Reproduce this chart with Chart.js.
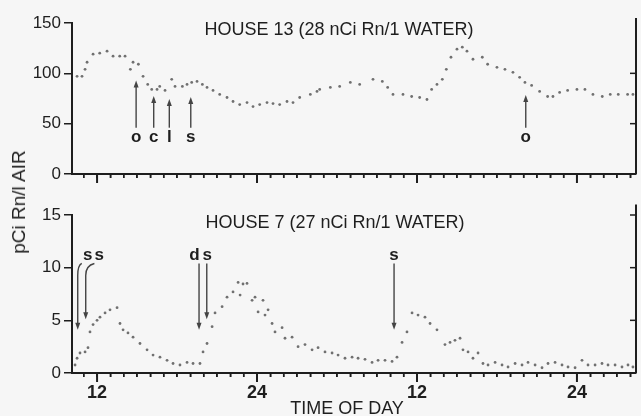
<!DOCTYPE html>
<html>
<head>
<meta charset="utf-8">
<script src="https://cdn.jsdelivr.net/npm/chart.js@4.4.1/dist/chart.umd.min.js"></script>
<style>
  body { margin: 0; background: #f6f6f6; width: 641px; height: 416px; overflow: hidden; position: relative; font-family: "Liberation Sans", Arial, sans-serif; }
  .box { position: absolute; left: 0; width: 641px; }
  #ytitle { position: absolute; left: 19px; top: 202px; transform: translate(-50%, -50%) rotate(-90deg); font-size: 19px; color: #222; white-space: nowrap; }
</style>
</head>
<body>
<div class="box" style="top:0;height:200px"><canvas id="topChart" width="641" height="200"></canvas></div>
<div class="box" style="top:200px;height:216px"><canvas id="bottomChart" width="641" height="216"></canvas></div>
<div id="ytitle">pCi Rn/l AIR</div>
<script>
// Horas (eje X continuo, dos días) y valores
const house13Hours = [10.5, 10.87, 11.1, 11.25, 11.7, 12.2, 12.75, 13.2, 13.7, 14.1, 14.5, 14.7, 15.1, 15.45, 15.8, 16.1, 16.5, 16.7, 17.1, 17.6,
  17.85, 18.4, 18.75, 19.1, 19.5, 19.9, 20.25, 20.7, 21.2, 21.75, 22.2, 22.7, 23.25, 23.7, 24.2, 24.75, 25.2, 25.7, 26.25, 26.7,
  27.2, 28.0, 28.5, 28.7, 29.5, 30.2, 31.0, 31.7, 32.7, 33.4, 33.8, 34.2, 34.95, 35.6, 36.2, 36.75, 37.1, 37.5, 37.9, 38.2,
  38.55, 39.0, 39.4, 39.75, 40.2, 40.9, 41.3, 42.0, 42.6, 43.2, 43.7, 44.1, 44.6, 45.2, 45.8, 46.2, 46.7, 47.3, 48.0, 48.6,
  49.2, 49.9, 50.5, 51.1, 51.8, 52.2];
const house13Values = [97, 97, 104, 111, 119, 120, 122, 117, 117, 117, 104, 111, 109, 97, 89, 84, 84, 87, 83, 94,
  87, 87, 89, 91, 92, 89, 86, 83, 79, 76, 72, 69, 71, 67, 69, 71, 70, 69, 72, 71,
  76, 79, 82, 84, 86, 87, 91, 89, 94, 92, 86, 79, 79, 77, 76, 74, 84, 89, 94, 104,
  116, 124, 126, 122, 114, 116, 109, 106, 104, 101, 96, 91, 88, 82, 77, 77, 81, 83, 84, 84,
  79, 77, 79, 79, 79, 79];

const house7Hours = [10.35, 10.5, 10.72, 11.1, 11.32, 11.47, 11.7, 12.0, 12.22, 12.6, 12.97, 13.5, 13.72, 13.95, 14.32, 14.7, 15.22, 15.75, 16.2, 16.72,
  17.25, 17.7, 18.22, 18.75, 19.2, 19.72, 19.95, 20.25, 20.63, 20.85, 21.38, 21.75, 22.2, 22.58, 22.73, 22.95, 23.25, 23.63, 23.85, 24.08,
  24.45, 24.6, 24.83, 25.13, 25.35, 25.88, 26.1, 26.63, 27.08, 27.6, 28.13, 28.58, 29.1, 29.63, 30.08, 30.6, 31.13, 31.58, 32.1, 32.63,
  33.08, 33.6, 34.13, 34.5, 34.88, 35.25, 35.63, 36.08, 36.6, 36.98, 37.5, 38.1, 38.48, 38.85, 39.23, 39.45, 39.83, 40.2, 40.58, 40.95,
  41.33, 41.86, 42.38, 42.83, 43.36, 43.88, 44.33, 44.86, 45.38, 45.83, 46.36, 46.88, 47.33, 47.86, 48.38, 48.83, 49.36, 49.88, 50.33, 50.86,
  51.38, 51.83, 52.2];
const house7Values = [0.76, 1.4, 1.9, 2.0, 2.4, 3.9, 4.6, 5.0, 5.3, 5.7, 6.0, 6.2, 4.7, 4.1, 3.8, 3.4, 2.8, 2.2, 1.7, 1.5,
  1.2, 0.9, 0.76, 1.0, 0.9, 0.9, 2.0, 2.8, 4.4, 5.7, 6.3, 7.2, 7.7, 8.6, 7.4, 8.45, 8.5, 6.9, 7.2, 5.8,
  6.9, 5.5, 6.0, 4.7, 3.9, 4.3, 3.3, 3.4, 2.5, 2.7, 2.2, 2.4, 2.0, 1.9, 1.7, 1.4, 1.5, 1.4, 1.3, 1.0,
  1.2, 1.2, 1.1, 1.5, 2.9, 3.9, 5.7, 5.5, 5.3, 4.7, 4.1, 2.7, 2.9, 3.1, 3.3, 2.2, 2.0, 1.4, 1.9, 0.9,
  0.76, 1.0, 0.76, 0.57, 0.9, 0.76, 1.0, 0.76, 0.5, 0.9, 1.0, 0.76, 0.57, 0.5, 1.2, 0.76, 0.76, 0.9, 0.76, 0.76,
  0.57, 0.76, 0.57];

// Marcas del eje X: cada hora; etiquetas solo a las 12 y 24
const tickHours = [11, 12, 13, 14, 15, 16, 17, 18, 19, 20, 21, 22, 23, 24, 25, 26, 27, 28, 29, 30, 31,
  32, 33, 34, 35, 36, 37, 38, 39, 40, 41, 42, 43, 44, 45, 46, 47, 48, 49, 50, 51, 52];
const majorHours = [12, 24, 36, 48];
const majorLabels = ['12', '24', '12', '24'];

// Flechas con letras
const house13Marks = [
  { text: 'o', hour: 14.93, tip: 93 },
  { text: 'c', hour: 16.25, tip: 77.5 },
  { text: 'l', hour: 17.42, tip: 74.5 },
  { text: 's', hour: 19.03, tip: 76.5 },
  { text: 'o', hour: 44.16, tip: 78.5 },
];
const house7Marks = [
  { text: 's', textHour: 11.3, fromHour: 10.85, hour: 10.55, tip: 4.1 },
  { text: 's', textHour: 12.17, fromHour: 11.8, hour: 11.15, tip: 5.1 },
  { text: 'd', textHour: 19.3, fromHour: 19.65, hour: 19.65, tip: 4.1 },
  { text: 's', textHour: 20.27, fromHour: 20.23, hour: 20.23, tip: 5.1 },
  { text: 's', textHour: 34.28, fromHour: 34.28, hour: 34.28, tip: 4.1 },
];

const INK = '#1e1e1e';
const FONT = '"Liberation Sans", Arial, sans-serif';
const X_MIN = 10.12;
const X_MAX = 52.43;

function toPoints(xs, ys) {
  return xs.map((h, i) => ({ x: h, y: ys[i] }));
}

function arrowHead(ctx, x, y, dir) {
  // dir = -1 apunta arriba, 1 apunta abajo
  ctx.beginPath();
  ctx.moveTo(x, y);
  ctx.lineTo(x - 2.5, y - dir * 7);
  ctx.lineTo(x + 2.5, y - dir * 7);
  ctx.closePath();
  ctx.fill();
}

// Dibuja eje derecho, marcas del eje X, título del panel y flechas
const decor = {
  id: 'decor',
  afterDraw(chart, args, opts) {
    const { ctx, chartArea: a, scales: { x, y } } = chart;
    ctx.save();
    ctx.strokeStyle = INK;
    ctx.fillStyle = INK;

    // eje derecho con marcas hacia dentro
    ctx.lineWidth = 2;
    ctx.beginPath();
    ctx.moveTo(a.right, y.getPixelForValue(opts.rightTop));
    ctx.lineTo(a.right, a.bottom);
    ctx.stroke();
    ctx.lineWidth = 1.5;
    opts.rightTicks.forEach(v => {
      const py = y.getPixelForValue(v);
      ctx.beginPath();
      ctx.moveTo(a.right - 6, py);
      ctx.lineTo(a.right, py);
      ctx.stroke();
    });

    // marcas horarias y mayores del eje X
    tickHours.forEach(h => {
      const px = x.getPixelForValue(h);
      const major = majorHours.includes(h);
      ctx.lineWidth = major ? 2 : 1.5;
      ctx.beginPath();
      ctx.moveTo(px, a.bottom);
      ctx.lineTo(px, a.bottom + (major ? 9 : 4));
      ctx.stroke();
    });

    // título del panel
    ctx.font = '18px ' + FONT;
    ctx.textAlign = 'center';
    ctx.textBaseline = 'alphabetic';
    ctx.fillText(opts.title, opts.titleX, a.top + opts.titleDy);

    if (opts.xTitle) {
      ctx.font = '18px ' + FONT;
      ctx.fillText(opts.xTitle, 347, chart.height - 2);
    }

    // flechas
    ctx.strokeStyle = '#444';
    ctx.fillStyle = '#444';
    ctx.lineWidth = 1.4;
    opts.marks.forEach(m => {
      if (opts.up) {
        const px = x.getPixelForValue(m.hour);
        const tip = y.getPixelForValue(m.tip);
        const base = y.getPixelForValue(opts.baseValue);
        ctx.beginPath();
        ctx.moveTo(px, base);
        ctx.lineTo(px, tip + 5);
        ctx.stroke();
        arrowHead(ctx, px, tip, -1);
        ctx.fillStyle = INK;
        ctx.font = 'bold 17px ' + FONT;
        ctx.textBaseline = 'middle';
        ctx.fillText(m.text, px, y.getPixelForValue(opts.labelValue));
        ctx.fillStyle = '#444';
      } else {
        const fx = x.getPixelForValue(m.fromHour);
        const px = x.getPixelForValue(m.hour);
        const start = y.getPixelForValue(opts.baseValue);
        const tip = y.getPixelForValue(m.tip);
        ctx.beginPath();
        ctx.moveTo(fx, start);
        if (fx !== px) {
          ctx.quadraticCurveTo(px, start + 2, px, start + 12);
        }
        ctx.lineTo(px, tip - 5);
        ctx.stroke();
        arrowHead(ctx, px, tip, 1);
        ctx.fillStyle = INK;
        ctx.font = 'bold 17px ' + FONT;
        ctx.textBaseline = 'middle';
        ctx.fillText(m.text, x.getPixelForValue(m.textHour), y.getPixelForValue(opts.labelValue));
        ctx.fillStyle = '#444';
      }
    });
    ctx.restore();
  }
};

function makeChart(id, cfg) {
  return new Chart(document.getElementById(id), {
    type: 'scatter',
    data: {
      datasets: [{
        data: toPoints(cfg.hours, cfg.values),
        backgroundColor: '#707070',
        borderWidth: 0,
        pointRadius: 1.4,
      }],
    },
    options: {
      responsive: false,
      animation: false,
      layout: { padding: { top: cfg.padTop, right: 5, left: 0, bottom: 0 } },
      plugins: {
        legend: { display: false },
        tooltip: { enabled: false },
        decor: cfg.decor,
      },
      scales: {
        x: {
          type: 'linear',
          min: X_MIN,
          max: X_MAX,
          afterBuildTicks: s => { s.ticks = tickHours.map(v => ({ value: v })); },
          afterFit: s => { s.height = cfg.xHeight; },
          ticks: {
            display: cfg.showXLabels,
            autoSkip: false,
            maxRotation: 0,
            padding: 5,
            color: INK,
            font: { family: FONT, size: 18, weight: 'bold' },
            callback: v => {
              const i = majorHours.indexOf(v);
              return i >= 0 ? majorLabels[i] : '';
            },
          },
          grid: { drawOnChartArea: false, tickLength: 4, color: INK, lineWidth: 1.5 },
          border: { color: INK, width: 2 },
        },
        y: {
          min: 0,
          max: cfg.yMax,
          afterFit: s => { s.width = 72; },
          ticks: { stepSize: cfg.yStep, padding: 3, color: INK, font: { family: FONT, size: 17 } },
          grid: { drawOnChartArea: false, tickLength: 8, color: INK, lineWidth: 1.5 },
          border: { color: INK, width: 2 },
        },
      },
    },
    plugins: [decor],
  });
}

makeChart('topChart', {
  hours: house13Hours, values: house13Values,
  padTop: 23, xHeight: 26, showXLabels: false, yMax: 150, yStep: 50,
  decor: {
    title: 'HOUSE 13 (28 nCi Rn/1 WATER)', titleX: 339, titleDy: 12,
    rightTop: 155, rightTicks: [50, 100],
    marks: house13Marks, up: true, baseValue: 46, labelValue: 36,
  },
});

makeChart('bottomChart', {
  hours: house7Hours, values: house7Values,
  padTop: 15, xHeight: 43, showXLabels: true, yMax: 15, yStep: 5,
  decor: {
    title: 'HOUSE 7 (27 nCi Rn/1 WATER)', titleX: 335, titleDy: 13,
    rightTop: 16, rightTicks: [5, 10, 15],
    marks: house7Marks, up: false, baseValue: 10.4, labelValue: 11.2,
    xTitle: 'TIME OF DAY',
  },
});
</script>
</body>
</html>
